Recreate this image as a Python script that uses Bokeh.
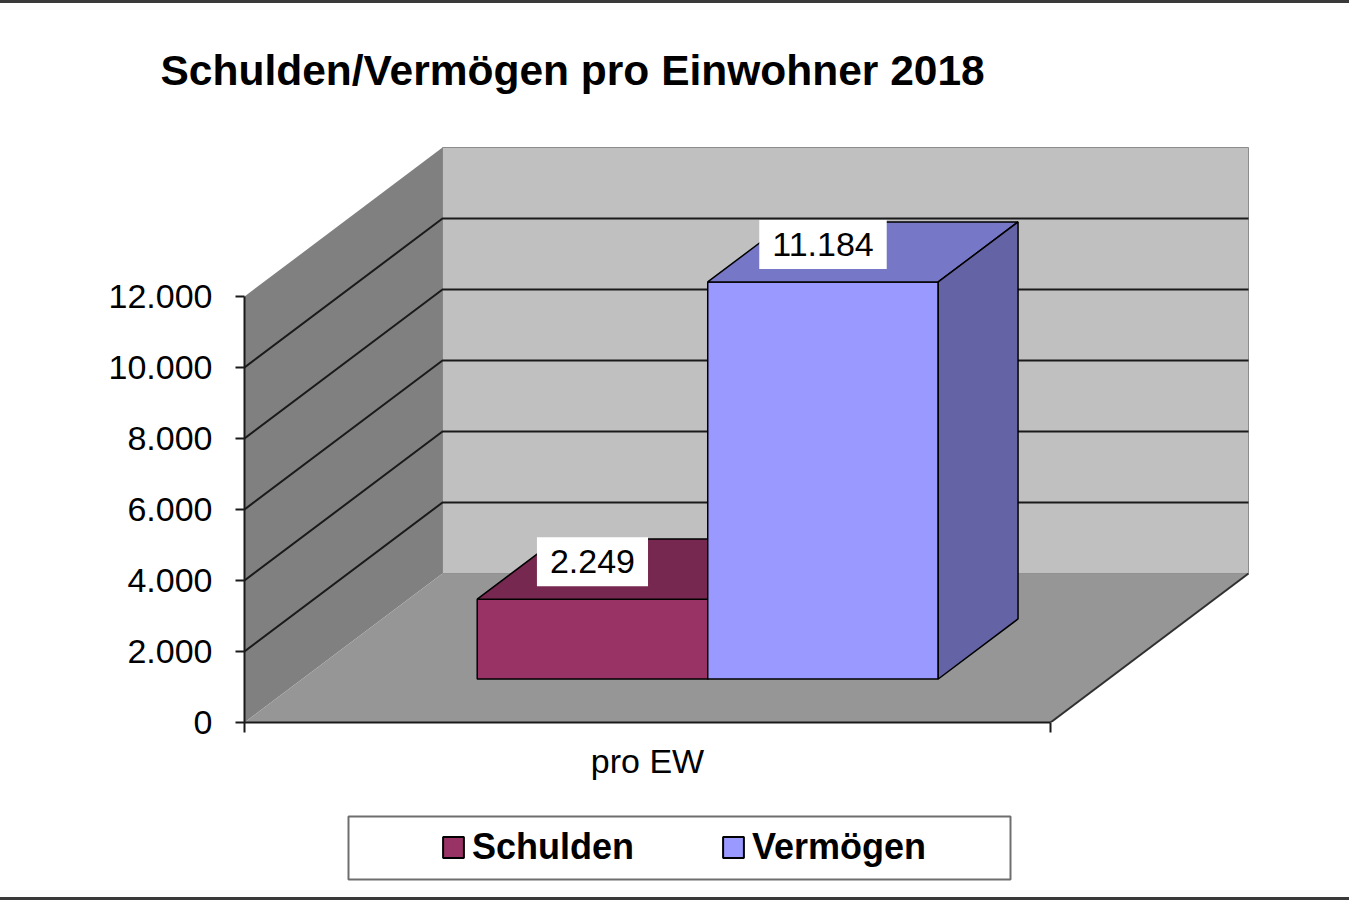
from bokeh.plotting import figure
from bokeh.layouts import column
from bokeh.models import Range1d, LinearAxis, FixedTicker, Label, Legend, LegendItem, Div
from bokeh.embed import file_html
from bokeh.resources import INLINE

# ---------------- data ----------------
TITLE = "Schulden/Vermögen pro Einwohner 2018"
CATEGORY = "pro EW"
SERIES = ["Schulden", "Vermögen"]
VALUES = [2249, 11184]
VALUE_LABELS = ["2.249", "11.184"]
COLORS_FRONT = ["#993366", "#9999FF"]
COLORS_TOP = ["#772850", "#7777C7"]
COLORS_SIDE = ["#5C1F3D", "#6363A6"]
Y_TICKS = [0, 2000, 4000, 6000, 8000, 10000, 12000]
Y_TICK_LABELS = ["0", "2.000", "4.000", "6.000", "8.000", "10.000", "12.000"]

FONT = "Liberation Sans"
W = 1349
H_BAR, H_CHART, H_LEG = 3, 797, 97
FRAME_L, FRAME_W = 244, 1012
FRAME_R_BORDER = W - FRAME_L - FRAME_W
EDGE = "#3a3a3a"


def edge_bar():
    return Div(text="", width=W, height=H_BAR, margin=(0, 0, 0, 0),
               styles={"background-color": EDGE})


# ---------------- chart ----------------
PAGE_TOP = H_BAR                 # page y of chart figure
FRAME_T, FRAME_B = 130, 722
FRAME_H = FRAME_B - FRAME_T
PX_PER_CAT = 806.0
PX_PER_VAL = 426.0 / Y_TICKS[-1]
X_END = FRAME_W / PX_PER_CAT
Y_END = FRAME_H / PX_PER_VAL

DX = 198.0 / PX_PER_CAT          # depth shift (x units) for full depth
DY = 149.0 / PX_PER_VAL          # depth shift (value units) for full depth
Z_FRONT, Z_BACK = 0.292, 0.695   # bar depth
GROUP_CENTER, BAR_W = 0.503, 0.286


def X(x, z):
    return x + z * DX


def Y(v, z):
    return v + z * DY


p = figure(width=W, height=H_CHART, output_backend="svg", toolbar_location=None,
           x_range=Range1d(0, X_END), y_range=Range1d(0, Y_END),
           x_axis_type=None, y_axis_type=None,
           min_border_left=FRAME_L, min_border_right=FRAME_R_BORDER,
           min_border_top=FRAME_T - PAGE_TOP, min_border_bottom=PAGE_TOP + H_CHART - FRAME_B)
p.grid.visible = False
p.outline_line_color = None

p.title.text = TITLE
p.title.align = "left"
p.title.offset = 160 - FRAME_L
p.title.standoff = 74
p.title.text_font = FONT
p.title.text_font_size = "42.5px"
p.title.text_font_style = "bold"
p.title.text_color = "black"

VMAX = Y_TICKS[-1]
# back wall
p.patch([X(0, 1), X(1, 1), X(1, 1), X(0, 1)],
        [Y(0, 1), Y(0, 1), Y(VMAX, 1), Y(VMAX, 1)],
        fill_color="#C0C0C0", line_color="#8C8C8C", line_width=1)
# left wall
p.patch([X(0, 0), X(0, 1), X(0, 1), X(0, 0)],
        [Y(0, 0), Y(0, 1), Y(VMAX, 1), Y(VMAX, 0)],
        fill_color="#808080", line_color=None)
# floor
p.patch([X(0, 0), X(1, 0), X(1, 1), X(0, 1)],
        [Y(0, 0), Y(0, 0), Y(0, 1), Y(0, 1)],
        fill_color="#969696", line_color=None)
p.line([X(1, 0), X(1, 1)], [Y(0, 0), Y(0, 1)], line_color="#303030", line_width=2)

# gridlines on left & back walls
gx, gy = [], []
for v in Y_TICKS[1:-1]:
    gx.append([X(0, 0), X(0, 1), X(1, 1)])
    gy.append([Y(v, 0), Y(v, 1), Y(v, 1)])
p.multi_line(gx, gy, line_color="#1a1a1a", line_width=2)

# bars
n = len(VALUES)
left0 = GROUP_CENTER - BAR_W * n / 2
for i, v in enumerate(VALUES):
    x0 = left0 + i * BAR_W
    x1 = x0 + BAR_W
    p.quad(left=[X(x0, Z_FRONT)], right=[X(x1, Z_FRONT)],
           bottom=[Y(0, Z_FRONT)], top=[Y(v, Z_FRONT)],
           fill_color=COLORS_FRONT[i], line_color="black", line_width=1.5)
    p.patch([X(x0, Z_FRONT), X(x1, Z_FRONT), X(x1, Z_BACK), X(x0, Z_BACK)],
            [Y(v, Z_FRONT), Y(v, Z_FRONT), Y(v, Z_BACK), Y(v, Z_BACK)],
            fill_color=COLORS_TOP[i], line_color="black", line_width=1.5)
    p.patch([X(x1, Z_FRONT), X(x1, Z_BACK), X(x1, Z_BACK), X(x1, Z_FRONT)],
            [Y(0, Z_FRONT), Y(0, Z_BACK), Y(v, Z_BACK), Y(v, Z_FRONT)],
            fill_color=COLORS_SIDE[i], line_color="black", line_width=1.5)

for i, v in enumerate(VALUES):
    x0 = left0 + i * BAR_W
    x1 = x0 + BAR_W
    p.add_layout(Label(x=X((x0 + x1) / 2, Z_FRONT), y=Y(v, Z_FRONT), text=VALUE_LABELS[i],
                       text_align="center", text_baseline="bottom", y_offset=13,
                       text_font=FONT, text_font_size="34px", text_color="black",
                       background_fill_color="white", padding=13))

# axes
yaxis = LinearAxis(ticker=FixedTicker(ticks=Y_TICKS),
                   major_label_overrides={t: s for t, s in zip(Y_TICKS, Y_TICK_LABELS)},
                   bounds=(Y_TICKS[0], Y_TICKS[-1]))
yaxis.axis_line_color = "#1a1a1a"
yaxis.axis_line_width = 2
yaxis.major_tick_line_color = "#1a1a1a"
yaxis.major_tick_line_width = 2
yaxis.major_tick_out = 9
yaxis.major_tick_in = 0
yaxis.minor_tick_line_color = None
yaxis.major_label_standoff = 23
yaxis.major_label_text_font = FONT
yaxis.major_label_text_font_size = "34px"
yaxis.major_label_text_color = "black"
p.add_layout(yaxis, "left")

xaxis = LinearAxis(ticker=FixedTicker(ticks=[0.5], minor_ticks=[0, 1]),
                   major_label_overrides={0.5: CATEGORY}, bounds=(0, 1))
xaxis.axis_line_color = "#1a1a1a"
xaxis.axis_line_width = 2
xaxis.major_tick_line_color = None
xaxis.major_tick_out = 0
xaxis.major_tick_in = 0
xaxis.minor_tick_line_color = "#1a1a1a"
xaxis.minor_tick_line_width = 2
xaxis.minor_tick_out = 10
xaxis.minor_tick_in = 0
xaxis.major_label_standoff = 9
xaxis.major_label_text_font = FONT
xaxis.major_label_text_font_size = "34px"
xaxis.major_label_text_color = "black"
p.add_layout(xaxis, "below")

# ---------------- legend strip ----------------
PAGE_LEG_BOTTOM = H_BAR + H_CHART + H_LEG
pl = figure(width=W, height=H_LEG, output_backend="svg", toolbar_location=None,
            x_range=Range1d(FRAME_L, FRAME_L + FRAME_W), y_range=Range1d(0, H_LEG),
            x_axis_type=None, y_axis_type=None, min_border=0,
            min_border_left=FRAME_L, min_border_right=FRAME_R_BORDER)
pl.grid.visible = False
pl.outline_line_color = None


def ly(page_y):
    return PAGE_LEG_BOTTOM - page_y


pl.quad(left=[348], right=[1010], bottom=[ly(879)], top=[ly(816)],
        fill_color="white", line_color="#6e6e6e", line_width=2)

# legend key renderers (zero-size, outside the visible range)
proxies = [pl.quad(left=[0], right=[0], bottom=[0], top=[0], fill_color=c,
                   line_color="black", line_width=2) for c in COLORS_FRONT]

item_h = 42
legend = Legend(items=[LegendItem(label=s, renderers=[r]) for s, r in zip(SERIES, proxies)],
                orientation="horizontal",
                location=(440 - FRAME_L, ly(847) - item_h / 2),
                glyph_width=26, glyph_height=26, label_height=26, label_width=170,
                label_standoff=6, spacing=78, padding=0, margin=0,
                label_text_font=FONT, label_text_font_size="36px",
                label_text_font_style="bold", label_text_color="black",
                border_line_color=None, background_fill_alpha=0)
pl.add_layout(legend)

layout = column(edge_bar(), p, pl, edge_bar(), spacing=0)
open("out.html", "w").write(file_html(layout, INLINE))
